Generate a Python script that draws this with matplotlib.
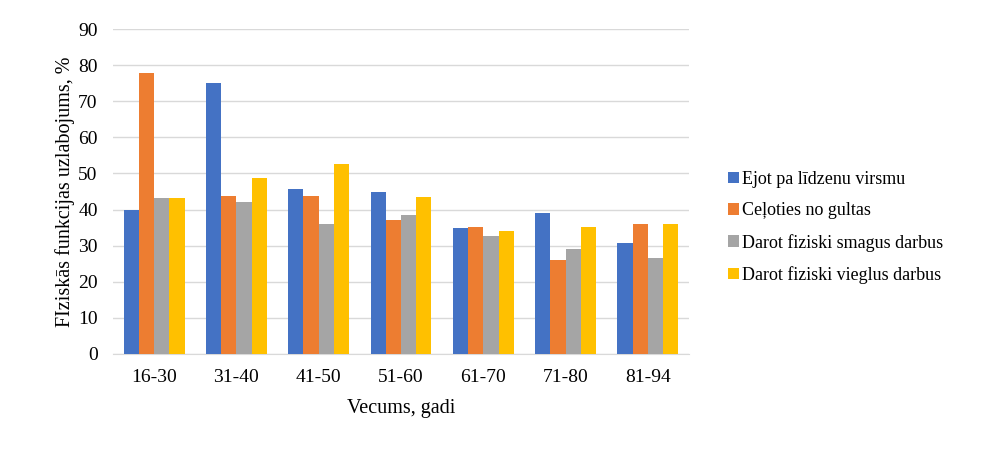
import matplotlib.pyplot as plt
import numpy as np

plt.rcParams['font.family'] = ['Liberation Serif', 'DejaVu Serif']

vecumi = ["16-30", "31-40", "41-50", "51-60", "61-70", "71-80", "81-94"]
ejot = [39.9, 75.1, 45.7, 44.9, 34.9, 39.1, 30.8]
celoties = [77.9, 43.8, 43.8, 37.1, 35.2, 26.1, 36.0]
smagus = [43.2, 42.1, 36.0, 38.5, 32.7, 29.1, 26.6]
vieglus = [43.2, 48.8, 52.7, 43.5, 34.1, 35.2, 36.0]

serijas = [
    ("Ejot pa līdzenu virsmu", ejot, "#4472C4"),
    ("Ceļoties no gultas", celoties, "#ED7D31"),
    ("Darot fiziski smagus darbus", smagus, "#A5A5A5"),
    ("Darot fiziski vieglus darbus", vieglus, "#FFC000"),
]

fig = plt.figure(figsize=(9.91, 4.62), dpi=100)
ax = fig.add_axes([113 / 991, 1 - 354 / 462, 576 / 991, 325 / 462])

x = np.arange(len(vecumi))
w = 0.74 / 4
for i, (nosaukums, vert, krasa) in enumerate(serijas):
    ax.bar(x + (i - 1.5) * w, vert, w, color=krasa, label=nosaukums, zorder=3)

ax.set_ylim(0, 90)
ax.set_xlim(-0.5, len(vecumi) - 0.5)
ax.set_yticks(range(0, 91, 10))
ax.set_xticks(x)
ax.set_xticklabels(vecumi)
ax.grid(axis="y", color="#D9D9D9", linewidth=1, zorder=0)
for s in ["top", "right", "left"]:
    ax.spines[s].set_visible(False)
ax.spines["bottom"].set_color("#D9D9D9")
ax.tick_params(axis="both", length=0, labelsize=14)
ax.tick_params(axis="y", pad=11)
ax.tick_params(axis="x", pad=11)

ax.set_xlabel("Vecums, gadi", fontsize=14.5, labelpad=9)
ax.set_ylabel("FIziskās funkcijas uzlabojums, %", fontsize=14.5, labelpad=2)

fig.legend(loc="center left", bbox_to_anchor=(0.718, 0.508), frameon=False,
           fontsize=13, handlelength=0.6, handleheight=0.6, handletextpad=0.2,
           labelspacing=0.8)

fig.savefig("out.png", dpi=100)
